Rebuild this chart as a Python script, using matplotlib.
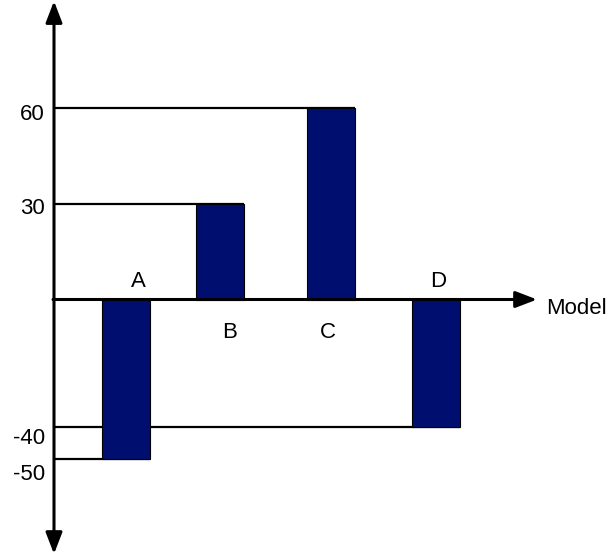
import matplotlib.pyplot as plt

# data
models = ['A', 'B', 'C', 'D']
values = [-50, 30, 60, -40]
tick_values = [60, 30, -40, -50]

# layout (x in pixel-like units, y in value units)
bar_x = [126, 219.5, 331, 436]
bar_w = 48
label_x = [138, 230, 328, 438]
tick_dy = [7, 5, 11, 15]  # label sits a bit below its guide line
axis_x = 54
px_per_unit = 3.195
zero_px = 299.5
W, H = 607, 558

plt.rcParams['font.family'] = ['Liberation Sans', 'DejaVu Sans']

fig = plt.figure(figsize=(W / 100, H / 100), dpi=100)
ax = fig.add_axes([0, 0, 1, 1])
ax.set_xlim(0, W)
ax.set_ylim(-(H - zero_px) / px_per_unit, zero_px / px_per_unit)
ax.axis('off')

bar_color = '#000f6f'

# guide lines from y axis to the bar's right edge
for x, v in zip(bar_x, values):
    ax.hlines(v, axis_x, x + bar_w / 2, color='black', lw=1.6, zorder=1)

ax.bar(bar_x, values, width=bar_w, color=bar_color, edgecolor='black',
       linewidth=0.8, zorder=2)

arrow = dict(arrowstyle='-|>,head_length=1.3,head_width=0.5', color='black',
             lw=2.2, shrinkA=0, shrinkB=0)
# y axis, both ways
ax.annotate('', xy=(axis_x, 93.4), xytext=(axis_x, 0), arrowprops=arrow, zorder=3)
ax.annotate('', xy=(axis_x, -(554 - zero_px) / px_per_unit), xytext=(axis_x, 0),
            arrowprops=arrow, zorder=3)
# x axis
ax.annotate('', xy=(537, 0), xytext=(axis_x - 1, 0), arrowprops=arrow, zorder=3)
ax.annotate('Model', xy=(546, 0), xytext=(0, -6.5), textcoords='offset points',
            ha='left', va='center', fontsize=16)

for v, dy in zip(tick_values, tick_dy):
    ax.annotate(str(v), xy=(45, v), xytext=(0, -dy * 0.72), textcoords='offset points',
                ha='right', va='center', fontsize=16)

for m, lx, v in zip(models, label_x, values):
    dy = 13 if v < 0 else -23.5
    ax.annotate(m, xy=(lx, 0), xytext=(0, dy), textcoords='offset points',
                ha='center', va='center', fontsize=16)

fig.savefig('out.png', dpi=100, facecolor='white')
